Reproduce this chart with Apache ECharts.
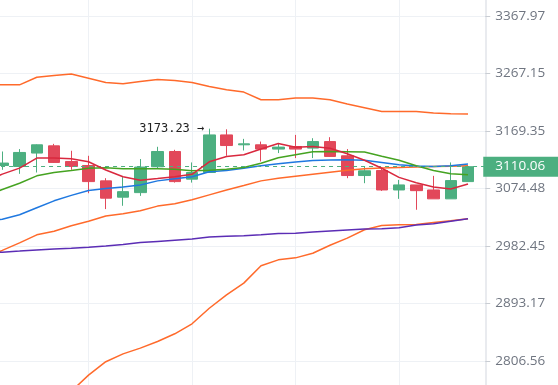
<!DOCTYPE html>
<html><head><meta charset="utf-8">
<script src="https://cdn.jsdelivr.net/npm/echarts@6/dist/echarts.min.js"></script>
<style>html,body{margin:0;padding:0;background:#fff;overflow:hidden}#c{width:558px;height:385px}</style>
</head><body><div id="c"></div>
<script>
// ---- data ----
const categories = ['1','2','3','4','5','6','7','8','9','10','11','12','13','14','15','16','17','18','19','20','21','22','23','24','25','26','27','28','29','30'];
const opens  = [null, 3112.1, 3110.5, 3132.6, 3144.6, 3118.7, 3112.1, 3086.9, 3060.4, 3067.8, 3110.0, 3135.2, 3089.7, 3100.6, 3162.8, 3146.3, 3146.3, 3139.2, 3143.5, 3140.8, 3151.7, 3128.1, 3095.6, 3103.9, 3072.1, 3080.3, 3072.1, 3057.7, 3085.7];
const closes = [null, 3116.1, 3133.6, 3146.3, 3117.1, 3110.5, 3085.7, 3058.8, 3069.4, 3109.5, 3135.2, 3085.7, 3100.6, 3162.8, 3145.1, 3147.9, 3139.2, 3142.5, 3139.2, 3151.7, 3127.0, 3095.6, 3103.4, 3072.1, 3080.3, 3071.0, 3057.7, 3087.4, 3110.06];
const lows   = [null, 3105.0, 3098.4, 3100.6, 3116.3, 3105.0, 3066.8, 3041.2, 3046.5, 3062.5, 3106.7, 3084.1, 3084.1, 3100.6, 3128.1, 3136.9, 3118.7, 3132.6, 3124.3, 3124.3, 3126.5, 3091.3, 3083.1, 3070.5, 3057.7, 3040.1, 3057.7, 3057.7, 3085.7];
const highs  = [null, 3135.2, 3139.2, 3147.1, 3147.9, 3136.4, 3128.1, 3091.3, 3093.0, 3122.7, 3143.0, 3138.0, 3117.1, 3173.23, 3172.2, 3156.2, 3151.7, 3149.1, 3162.8, 3157.3, 3159.0, 3139.2, 3110.5, 3107.8, 3088.5, 3080.3, 3095.1, 3117.1, 3110.06];

const bollUpper = [3247.6, 3247.6, 3247.6, 3260.7, 3263.8, 3266.3, 3259.0, 3251.5, 3249.3, 3253.2, 3256.6, 3254.9, 3251.5, 3244.7, 3239.1, 3235.2, 3222.1, 3222.1, 3225.0, 3225.0, 3222.1, 3214.8, 3208.5, 3202.2, 3202.2, 3202.2, 3199.5, 3198.3, 3197.8];
const bollMid   = [2963.8, 2975.5, 2987.3, 3000.1, 3005.7, 3014.5, 3021.7, 3030.0, 3033.7, 3038.5, 3046.0, 3049.7, 3056.1, 3064.1, 3072.1, 3079.4, 3086.9, 3091.0, 3094.3, 3097.6, 3100.9, 3104.2, 3106.7, 3107.8, 3108.8, 3109.5, 3110.3, 3110.9, 3111.6];
const bollLower = [2679.9, 2703.5, 2727.1, 2739.2, 2747.1, 2761.9, 2785.7, 2805.5, 2817.1, 2825.7, 2835.6, 2847.2, 2862.3, 2885.9, 2906.4, 2924.5, 2951.4, 2960.7, 2963.8, 2971.1, 2983.6, 2994.8, 3008.1, 3014.9, 3016.1, 3016.5, 3019.7, 3022.5, 3025.7];
const maPurple  = [2971.6, 2972.8, 2974.4, 2976.1, 2977.6, 2979.0, 2980.6, 2982.5, 2984.7, 2987.9, 2989.7, 2991.6, 2993.5, 2996.7, 2997.8, 2998.5, 3000.2, 3002.1, 3002.8, 3004.5, 3006.1, 3007.7, 3009.2, 3009.7, 3011.3, 3015.6, 3017.7, 3021.7, 3025.7];
const maBlue    = [3020.9, 3024.9, 3032.1, 3043.3, 3054.5, 3063.3, 3071.3, 3074.5, 3077.0, 3080.3, 3086.9, 3090.2, 3093.5, 3101.7, 3103.9, 3107.5, 3111.6, 3114.9, 3117.9, 3120.2, 3121.2, 3121.5, 3120.7, 3117.1, 3113.3, 3111.1, 3110.5, 3111.6, 3114.4];
const maGreen   = [3062.5, 3072.9, 3083.1, 3095.1, 3100.6, 3103.9, 3107.5, 3108.3, 3106.7, 3106.7, 3106.7, 3105.8, 3103.4, 3104.2, 3105.8, 3108.8, 3115.7, 3124.8, 3129.8, 3134.7, 3135.2, 3134.7, 3134.2, 3127.3, 3120.7, 3111.6, 3103.9, 3098.4, 3096.8];
const maRed     = [3085.2, 3097.9, 3107.8, 3124.3, 3124.3, 3123.2, 3118.2, 3104.7, 3093.6, 3088.0, 3090.7, 3093.8, 3097.6, 3118.2, 3127.0, 3129.8, 3139.2, 3148.4, 3142.1, 3143.5, 3140.5, 3131.4, 3120.7, 3107.5, 3092.6, 3083.9, 3077.0, 3073.7, 3081.9];

const yTickLabels = ['2806.56', '2893.17', '2982.45', '3074.48', '3169.35', '3267.15', '3367.97'];
const lastPrice = 3110.06;

// ---- logarithmic price scale: axis unit = one tick step ----
const BASE = parseFloat(yTickLabels[0]);
const TOPV = parseFloat(yTickLabels[yTickLabels.length - 1]);
const STEP = Math.log(TOPV / BASE) / (yTickLabels.length - 1);
const tr = p => (p == null ? '-' : Math.log(p / BASE) / STEP);

const UP = '#4caf80', DOWN = '#e2485a';
const candleData = opens.map((o, i) => o == null ? '-' : [tr(o), tr(closes[i]), tr(lows[i]), tr(highs[i])]);

let maxIdx = -1;
highs.forEach((h, i) => { if (h != null && (maxIdx < 0 || h > highs[maxIdx])) maxIdx = i; });
const maxHigh = highs[maxIdx];

function line(data, color, z) {
  return {
    type: 'line', data: data.map(tr), symbol: 'none', smooth: false, z: z,
    lineStyle: { color: color, width: 1.5 }, silent: true, animation: false
  };
}

const chart = echarts.init(document.getElementById('c'), null, { renderer: 'canvas' });
chart.setOption({
  animation: false,
  backgroundColor: '#ffffff',
  grid: { left: -14.95, right: 72.75, top: -41.5, bottom: -33.5, containLabel: false, outerBoundsMode: 'none' },
  xAxis: {
    type: 'category', data: categories, boundaryGap: false,
    axisLine: { show: false }, axisTick: { show: false }, axisLabel: { show: false },
    splitLine: { show: true, interval: (idx) => idx % 6 === 0, lineStyle: { color: '#eef1f5', width: 1 } }
  },
  yAxis: {
    type: 'value', position: 'right', min: -1, max: 7, interval: 1,
    axisLine: { show: true, lineStyle: { color: '#e2e5ea', width: 1.5 } },
    axisTick: { show: true, length: 5, lineStyle: { color: '#c9cdd3' } },
    axisLabel: {
      margin: 10, color: '#6f7580', fontSize: 13.5, fontFamily: 'Open Sans',
      formatter: v => yTickLabels[Math.round(v)] || ''
    },
    splitLine: { show: true, lineStyle: { color: '#eef1f5', width: 1 } }
  },
  series: [
    {
      type: 'candlestick', data: candleData, barWidth: 12, z: 2,
      itemStyle: { color: UP, color0: DOWN, borderColor: UP, borderColor0: DOWN, borderWidth: 1 },
      markPoint: {
        symbol: 'circle', symbolSize: 0, silent: true,
        data: [{ coord: [maxIdx, tr(maxHigh)], value: maxHigh }],
        label: {
          show: true, position: 'left', distance: 5,
          formatter: p => maxHigh.toFixed(2) + ' \u2192',
          color: '#222', fontFamily: 'DejaVu Sans Mono', fontSize: 12
        }
      },
      markLine: {
        symbol: ['none', 'none'], silent: true, animation: false,
        lineStyle: { color: UP, type: [4, 4], width: 1 },
        data: [{ yAxis: tr(lastPrice) }],
        label: {
          show: true, position: 'end', distance: -2,
          formatter: () => lastPrice.toFixed(2),
          backgroundColor: UP, color: '#fff', fontSize: 13.5, fontFamily: 'Open Sans',
          padding: [3, 16, 3, 12], lineHeight: 14
        }
      }
    },
    line(bollUpper, '#ff6a2b', 3),
    line(bollMid, '#ff6a2b', 3),
    line(bollLower, '#ff6a2b', 3),
    line(maPurple, '#5b2db5', 4),
    line(maBlue, '#1f78e0', 4),
    line(maGreen, '#45a321', 4),
    line(maRed, '#d9283e', 5)
  ]
});
</script>
</body></html>
